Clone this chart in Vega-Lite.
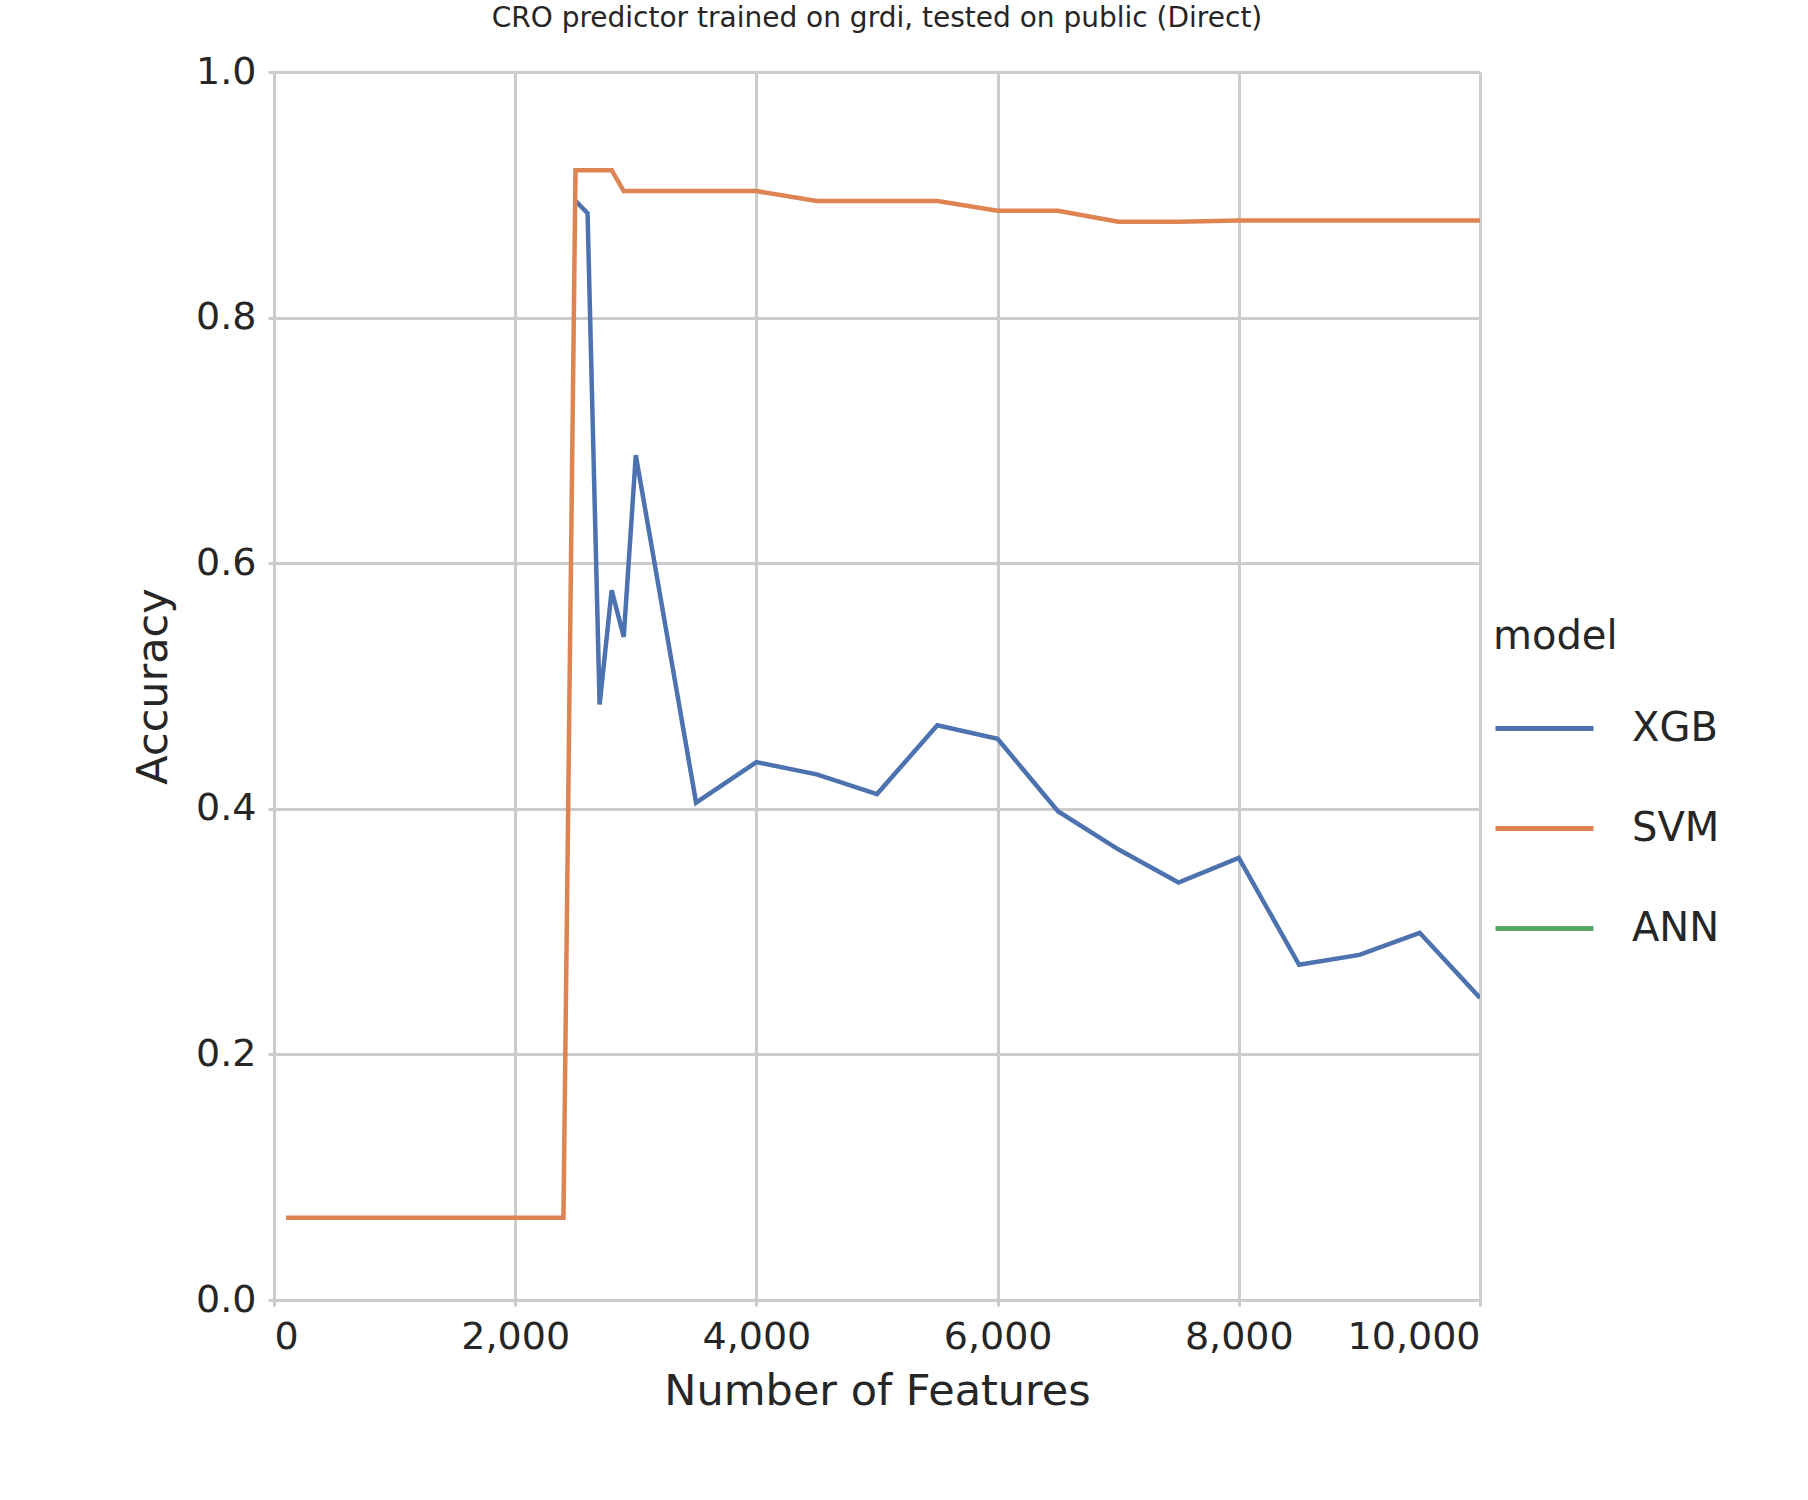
{
  "$schema": "https://vega.github.io/schema/vega-lite/v6.json",
  "width": 1206,
  "height": 1228,
  "autosize": {"type": "none"},
  "padding": {"left": 274, "top": 72, "right": 328, "bottom": 200},
  "background": "white",
  "config": {
    "font": "DejaVu Sans",
    "view": {"stroke": null},
    "axis": {
      "gridColor": "#cccccc", "gridWidth": 3, "domainColor": "#cccccc", "domainWidth": 3,
      "tickColor": "#cccccc", "tickWidth": 3, "tickSize": 6,
      "labelFontSize": 38, "labelColor": "#262626", "titleFontSize": 43, "titleColor": "#262626",
      "titleFontWeight": "normal", "labelPadding": 12
    }
  },
  "title": {"text": "CRO predictor trained on grdi, tested on public (Direct)", "fontSize": 28, "fontWeight": "normal", "color": "#262626", "offset": 20},
  "data": {"values": [
    {"n": 2500, "acc": 0.895, "model": "XGB"},
    {"n": 2600, "acc": 0.885, "model": "XGB"},
    {"n": 2700, "acc": 0.485, "model": "XGB"},
    {"n": 2800, "acc": 0.578, "model": "XGB"},
    {"n": 2900, "acc": 0.540, "model": "XGB"},
    {"n": 3000, "acc": 0.688, "model": "XGB"},
    {"n": 3500, "acc": 0.405, "model": "XGB"},
    {"n": 4000, "acc": 0.438, "model": "XGB"},
    {"n": 4500, "acc": 0.428, "model": "XGB"},
    {"n": 5000, "acc": 0.412, "model": "XGB"},
    {"n": 5500, "acc": 0.468, "model": "XGB"},
    {"n": 6000, "acc": 0.457, "model": "XGB"},
    {"n": 6500, "acc": 0.398, "model": "XGB"},
    {"n": 7000, "acc": 0.367, "model": "XGB"},
    {"n": 7500, "acc": 0.340, "model": "XGB"},
    {"n": 8000, "acc": 0.360, "model": "XGB"},
    {"n": 8500, "acc": 0.273, "model": "XGB"},
    {"n": 9000, "acc": 0.281, "model": "XGB"},
    {"n": 9500, "acc": 0.299, "model": "XGB"},
    {"n": 10000, "acc": 0.246, "model": "XGB"},
    {"n": 100, "acc": 0.067, "model": "SVM"},
    {"n": 1000, "acc": 0.067, "model": "SVM"},
    {"n": 2000, "acc": 0.067, "model": "SVM"},
    {"n": 2400, "acc": 0.067, "model": "SVM"},
    {"n": 2500, "acc": 0.920, "model": "SVM"},
    {"n": 2800, "acc": 0.920, "model": "SVM"},
    {"n": 2900, "acc": 0.903, "model": "SVM"},
    {"n": 4000, "acc": 0.903, "model": "SVM"},
    {"n": 4500, "acc": 0.895, "model": "SVM"},
    {"n": 5500, "acc": 0.895, "model": "SVM"},
    {"n": 6000, "acc": 0.887, "model": "SVM"},
    {"n": 6500, "acc": 0.887, "model": "SVM"},
    {"n": 7000, "acc": 0.878, "model": "SVM"},
    {"n": 7500, "acc": 0.878, "model": "SVM"},
    {"n": 8000, "acc": 0.879, "model": "SVM"},
    {"n": 10000, "acc": 0.879, "model": "SVM"}
  ]},
  "mark": {"type": "line", "strokeWidth": 4.5, "clip": true},
  "encoding": {
    "x": {"field": "n", "type": "quantitative", "title": "Number of Features",
      "scale": {"domain": [0, 10000], "nice": false},
      "axis": {"values": [0, 2000, 4000, 6000, 8000, 10000], "titlePadding": 14}},
    "y": {"field": "acc", "type": "quantitative", "title": "Accuracy",
      "scale": {"domain": [0, 1], "nice": false},
      "axis": {"values": [0, 0.2, 0.4, 0.6, 0.8, 1.0], "format": ".1f", "titlePadding": 20}},
    "color": {"field": "model", "type": "nominal",
      "scale": {"domain": ["XGB", "SVM", "ANN"], "range": ["#4c72b0", "#dd8452", "#55a868"]},
      "legend": {"orient": "none", "legendX": 1219, "legendY": 545, "symbolType": "stroke",
        "symbolSize": 9600, "symbolStrokeWidth": 5, "labelFontSize": 40, "titleFontSize": 40,
        "titleFontWeight": "normal", "labelColor": "#262626", "titleColor": "#262626",
        "labelOffset": 36, "rowPadding": 28, "titlePadding": 20}}
  }
}
